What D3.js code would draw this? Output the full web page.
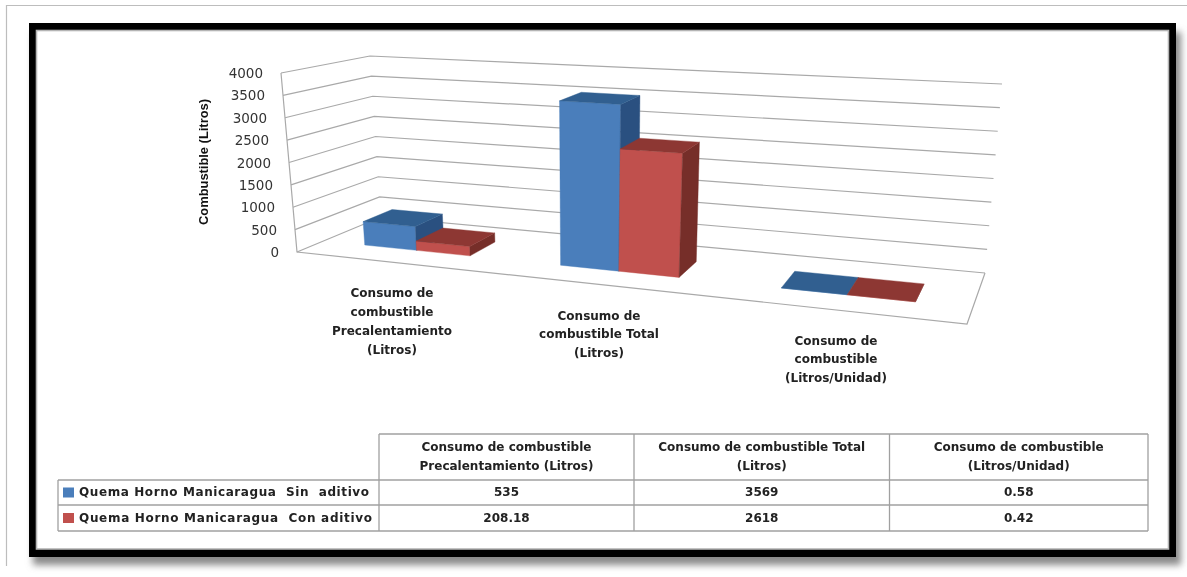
<!DOCTYPE html>
<html><head><meta charset="utf-8">
<script src="https://cdn.jsdelivr.net/npm/d3@7/dist/d3.min.js"></script>
<style>
html,body{margin:0;padding:0;background:#fff;overflow:hidden}
svg{display:block;filter:blur(.35px)}
text{font-family:"DejaVu Sans",sans-serif;white-space:pre}
</style></head><body>
<svg id="c" width="1187" height="577"></svg>
<script>
const categories=[["Consumo de","combustible","Precalentamiento","(Litros)"],["Consumo de","combustible Total","(Litros)"],["Consumo de","combustible","(Litros/Unidad)"]];
const categoryIds=["pre","total","unidad"];
const seriesNames=["Quema Horno Manicaragua  Sin  aditivo","Quema Horno Manicaragua  Con aditivo"];
const sinAditivo=[535,3569,0.58];
const conAditivo=[208.18,2618,0.42];
const tickValues=[0,500,1000,1500,2000,2500,3000,3500,4000];
const tableHeaders=[["Consumo de combustible","Precalentamiento (Litros)"],["Consumo de combustible Total","(Litros)"],["Consumo de combustible","(Litros/Unidad)"]];
const sinLabels=["535","3569","0.58"];
const conLabels=["208.18","2618","0.42"];
const axisTitle="Combustible (Litros)";

const svg=d3.select("#c");
const INK="#2b2b2b",GRID="#a9a9a9";
const defs=svg.append("defs");
defs.append("filter").attr("id","sh").attr("x","-5%").attr("y","-5%").attr("width","110%").attr("height","110%")
  .append("feGaussianBlur").attr("stdDeviation",3.5);

// page and frame
svg.append("path").attr("d","M6.5,566V5.5H1187").attr("fill","none").attr("stroke","#bdbdbd").attr("stroke-width",1.2);
svg.append("rect").attr("x",33).attr("y",32).attr("width",1148).attr("height",533).attr("fill","#8a8a8a").attr("filter","url(#sh)");
svg.append("rect").attr("x",29).attr("y",23).attr("width",1147).attr("height",534).attr("fill","#000");
svg.append("rect").attr("x",36.5).attr("y",30.5).attr("width",1132).attr("height",518.5).attr("fill","#fff").attr("stroke","#b5b5b5").attr("stroke-width",1.6);

// 3D frame: projection of (u, value, depth)
const corners={c000:[297,252],c001:[381,217],c100:[967,324],c101:[985,273],c010:[281,73],c011:[370,56],c110:[991,114],c111:[1002,84]};
const vScale=d3.scaleLinear().domain([0,4000]).range([0,1]);
const K=1.2;
const warp=u=>u/(u+K*(1-u));
function project(u,v,d){
  const U=warp(u),lerp=d3.interpolateNumber;
  const mix=(a,b,t)=>[lerp(a[0],b[0])(t),lerp(a[1],b[1])(t)];
  const a=mix(mix(corners.c000,corners.c100,U),mix(corners.c010,corners.c110,U),v);
  const b=mix(mix(corners.c001,corners.c101,U),mix(corners.c011,corners.c111,U),v);
  return mix(a,b,d);
}
const line=d3.line();
const catScale=d3.scaleBand().domain(categoryIds).range([0,1]).paddingInner(.448).paddingOuter(.224);
const serScale=d3.scaleBand().domain([0,1]).range([0,catScale.bandwidth()]);
const depth=d3.scaleLinear().domain([0,1]).range([.32,.68]);

// gridlines
const g=svg.append("g").attr("fill","none").attr("stroke",GRID).attr("stroke-width",1.2);
g.selectAll("path.grid").data(tickValues).join("path").attr("class","grid")
 .attr("d",t=>{const v=vScale(t);return line([project(0,v,0),project(0,v,1),project(1,v,1)]);});
g.append("path").attr("d",line([project(0,1,0),project(0,0,0),project(1,0,0),project(1,0,1)]));

// tick labels
svg.append("g").selectAll("text").data(tickValues).join("text")
 .attr("x",t=>project(0,vScale(t),0)[0]-18).attr("y",t=>project(0,vScale(t),0)[1]+1)
 .attr("text-anchor","end").attr("dominant-baseline","middle")
 .attr("font-size",13.5).attr("fill","#333").text(d=>d);

// bars
const seriesData=[sinAditivo,conAditivo];
const faces=[{front:"#4a7ebb",top:"#315f90",side:"#2a5080"},{front:"#c0504d",top:"#8d3733",side:"#762e29"}];
const bars=svg.append("g");
categoryIds.forEach((c,i)=>{
  seriesData.forEach((vals,s)=>{
    const u0=catScale(c)+serScale(s),u1=u0+serScale.bandwidth(),v=vScale(vals[i]),d0=depth(0),d1=depth(1);
    const P=(u,val,d)=>project(u,val,d);
    const poly=(pts,fill)=>bars.append("path").attr("d",line(pts)+"Z").attr("fill",fill).attr("stroke",fill).attr("stroke-width",.4);
    poly([P(u0,0,d0),P(u1,0,d0),P(u1,v,d0),P(u0,v,d0)],faces[s].front);
    poly([P(u1,0,d0),P(u1,0,d1),P(u1,v,d1),P(u1,v,d0)],faces[s].side);
    poly([P(u0,v,d0),P(u1,v,d0),P(u1,v,d1),P(u0,v,d1)],faces[s].top);
  });
});

// axis title
const tp=[205,162];
svg.append("text").attr("transform",`translate(${tp}) rotate(-90)`).attr("text-anchor","middle").attr("dominant-baseline","middle")
 .attr("font-family","Liberation Sans").attr("font-weight","bold").attr("font-size",12.5).attr("fill","#111")
 .attr("textLength",126).attr("lengthAdjust","spacingAndGlyphs").style("font-family","'Liberation Sans'").text(axisTitle);

// category labels
const labelX=[392,599,836],labelY=[293,316,341],labelStep=[19,18.5,18.5];
categories.forEach((lines,i)=>{
  svg.append("g").selectAll("text").data(lines).join("text")
   .attr("x",labelX[i]).attr("y",(d,k)=>labelY[i]+k*labelStep[i])
   .attr("text-anchor","middle").attr("dominant-baseline","middle")
   .attr("font-weight","bold").attr("font-size",12).attr("fill","#222").text(d=>d);
});

// data table
const colX=[58,379,634,889.5,1148],rowY=[434,480,505,531];
const t=svg.append("g").attr("stroke","#a0a0a0").attr("stroke-width",1.3).attr("fill","none");
const seg=(a,b,c,e)=>t.append("path").attr("d",line([[a,b],[c,e]]));
seg(colX[1],rowY[0],colX[4],rowY[0]);
seg(colX[0],rowY[1],colX[4],rowY[1]);
seg(colX[0],rowY[2],colX[4],rowY[2]);
seg(colX[0],rowY[3],colX[4],rowY[3]);
seg(colX[0],rowY[1],colX[0],rowY[3]);
colX.slice(1).forEach(x=>seg(x,rowY[0],x,rowY[3]));
const cellText=(x,y,s,anchor)=>svg.append("text").attr("x",x).attr("y",y).attr("text-anchor",anchor||"middle")
 .attr("dominant-baseline","middle").attr("font-weight","bold").attr("font-size",12).attr("fill","#222").text(s);
tableHeaders.forEach((h,i)=>{
  const cx=(colX[i+1]+colX[i+2])/2;
  h.forEach((s,k)=>cellText(cx,447+k*19,s));
});
[sinLabels,conLabels].forEach((r,j)=>{
  const y=(rowY[j+1]+rowY[j+2])/2;
  r.forEach((s,i)=>cellText((colX[i+1]+colX[i+2])/2,y,s));
  svg.append("rect").attr("x",colX[0]+5).attr("y",y-5).attr("width",11).attr("height",10).attr("fill",faces[j].front);
  cellText(colX[0]+21,y,seriesNames[j],"start").attr("textLength",j?293:290).attr("lengthAdjust","spacing");
});
</script></body></html>
